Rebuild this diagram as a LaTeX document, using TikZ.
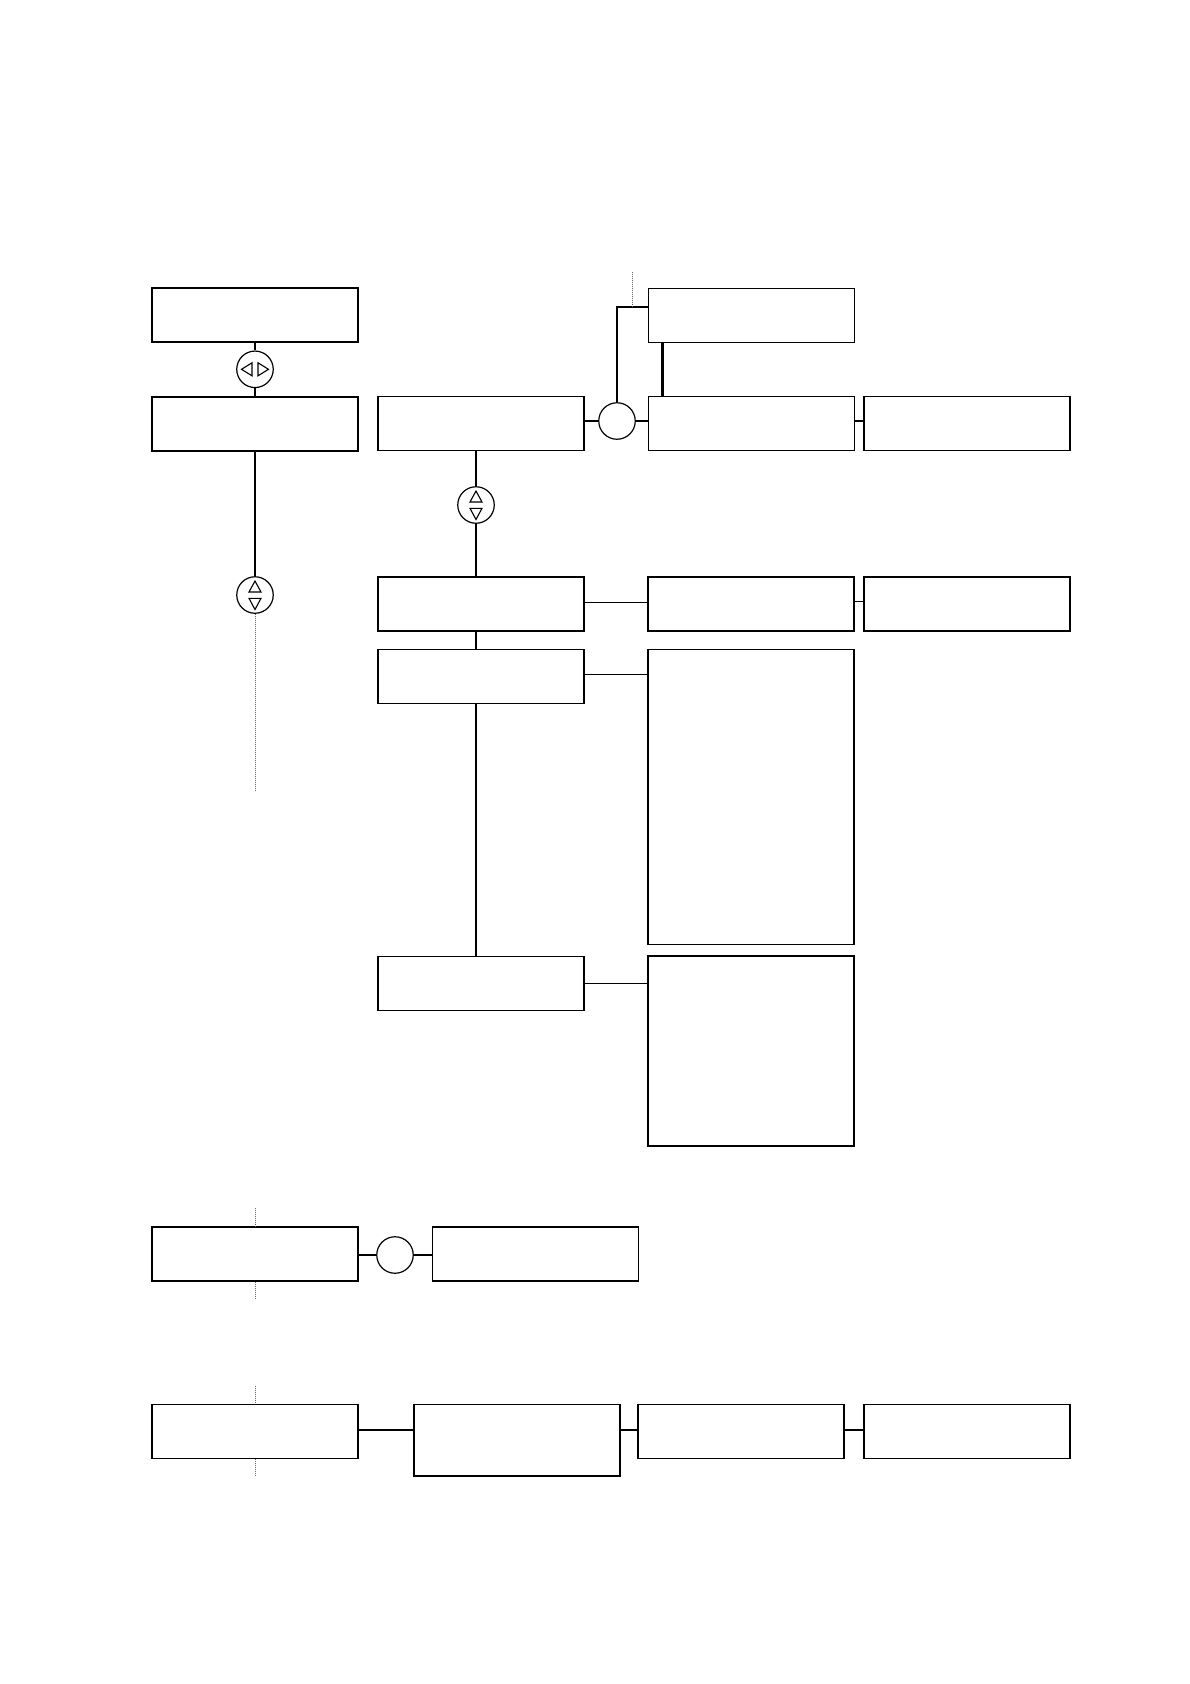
\documentclass[tikz,border=0pt]{standalone}
\begin{document}
\begin{tikzpicture}[x=1pt,y=-1pt,
  box/.style={draw, line width=1.5pt, rectangle, inner sep=0pt, minimum width=206pt, minimum height=54pt},
  ring/.style={draw, line width=1.2pt, circle, inner sep=0pt, minimum size=36.5pt},
  conn/.style={line width=1.3pt},
  heavy/.style={line width=2.4pt},
  dots/.style={black!60, line width=0.9pt, dash pattern=on 1pt off 1pt},
  tri/.style={line width=1.1pt, line join=miter}]
\useasboundingbox (0,0) rectangle (1190,1684);
% boxes
\node[box] (A) at (255,315) {};
\node[box] (B) at (255,423.8) {};
\node[box] (C) at (481.2,423.7) {};
\node[box] (D) at (751.3,423.7) {};
\node[box] (E) at (751.3,315.3) {};
\node[box] (F) at (967.2,423.7) {};
\node[box] (G) at (481.2,604.2) {};
\node[box] (H) at (751.2,604.2) {};
\node[box] (I) at (967.2,604.2) {};
\node[box] (J) at (481.2,676.3) {};
\node[box, minimum height=295pt] (K) at (751.2,796.8) {};
\node[box] (L) at (481.2,983.3) {};
\node[box, minimum height=190pt] (M) at (751.2,1051) {};
\node[box] (N) at (255,1254.2) {};
\node[box] (O) at (535.3,1254.2) {};
\node[box] (P) at (255,1431.3) {};
\node[box, minimum height=71.7pt] (Q) at (517.2,1440.2) {};
\node[box] (R) at (741,1431.3) {};
\node[box] (S) at (967.2,1431.3) {};
% circles
\node[ring] (c1) at (255,369.3) {};
\node[ring] (c2) at (617,421) {};
\node[ring] (c3) at (476,505) {};
\node[ring] (c4) at (255,595) {};
\node[ring] (c5) at (395,1255) {};
% arrow glyphs
\begin{scope}[shift={(c1.center)}]
  \draw[tri] (-13.5,0) -- (-3,-6.5) -- (-3,6.5) -- cycle;
  \draw[tri] (13.5,0) -- (3,-6.5) -- (3,6.5) -- cycle;
\end{scope}
\foreach \c in {c3,c4}{
\begin{scope}[shift={(\c.center)}]
  \draw[tri] (0,-14) -- (-6,-3) -- (6,-3) -- cycle;
  \draw[tri] (0,14.5) -- (-6,3.3) -- (6,3.3) -- cycle;
\end{scope}}
% coordinates
\coordinate (ej) at (648.3,306.7);
\coordinate (dtop) at (632.3,271.7);
\coordinate (d4) at (255,791.7);
\coordinate (n1) at (255,1208);
\coordinate (n2) at (255,1299);
\coordinate (p1) at (255,1385.7);
\coordinate (p2) at (255,1476);
% connectors left column
\draw[conn] (A.south) -- (c1.north);
\draw[conn] (c1.south) -- (B.north);
\draw[conn] (B.south) -- (c4.north);
\draw[dots] (c4.south) -- (d4);
% top right
\draw[conn] (C.east |- c2) -- (c2.west);
\draw[conn] (c2.east) -- (D.west |- c2);
\draw[heavy] (c2.north) |- (ej);
\draw[dots] (dtop) -- (dtop |- ej);
\draw[heavy] ([xshift=15pt]E.south west) -- ([xshift=15pt]D.north west);
\draw[conn] ([yshift=2.7pt]D.east) -- ([yshift=2.7pt]F.west);
% middle column
\draw[conn] (C.south -| c3) -- (c3.north);
\draw[conn] (c3.south) -- (G.north -| c3);
\draw[conn] (G.south -| c3) -- (J.north -| c3);
\draw[conn] (J.south -| c3) -- (L.north -| c3);
\draw[conn] ([yshift=1.5pt]G.east) -- ([yshift=1.5pt]H.west);
\draw[conn] ([yshift=3pt]H.east) -- ([yshift=3pt]I.west);
\draw[conn] ([yshift=1.6pt]J.east) -- ([yshift=1.6pt]J.east -| K.west);
\draw[conn] (L.east) -- (L.east -| M.west);
% row N
\draw[conn] (N.east |- c5) -- (c5.west);
\draw[conn] (c5.east) -- (O.west |- c5);
\draw[dots] (n1) -- (N.north);
\draw[dots] (N.south) -- (n2);
% row P
\draw[dots] (p1) -- (P.north);
\draw[dots] (P.south) -- (p2);
\draw[heavy] ([yshift=1.3pt]P.east) -- ([yshift=1.3pt]P.east -| Q.west);
\draw[heavy] ([yshift=1.3pt]R.west -| Q.east) -- ([yshift=1.3pt]R.west);
\draw[heavy] ([yshift=1.3pt]R.east) -- ([yshift=1.3pt]S.west);
\end{tikzpicture}
\end{document}
